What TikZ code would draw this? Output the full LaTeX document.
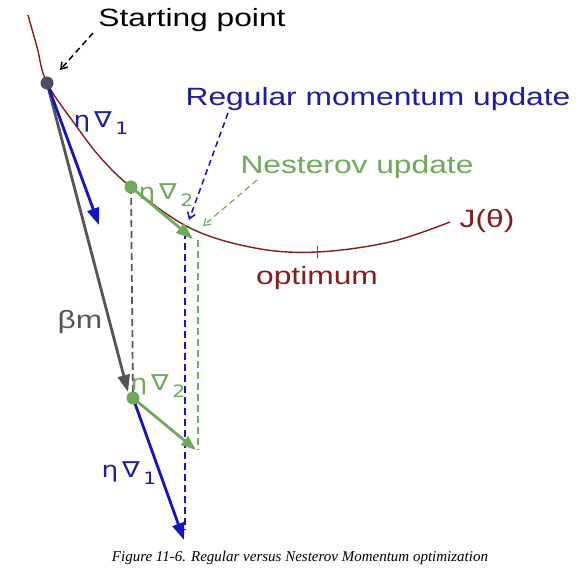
\documentclass[tikz,border=0pt]{standalone}
\usepackage{fontspec}
\setmainfont{Liberation Sans}[FakeStretch=1.27]
\newfontfamily\symfont{DejaVu Sans}[FakeStretch=1.2]
\newfontfamily\capfont{Liberation Serif}
\usetikzlibrary{arrows.meta}
\definecolor{curvered}{HTML}{8B1A1A}
\definecolor{myblue}{HTML}{1212C8}
\definecolor{txtblue}{HTML}{1C1CA8}
\definecolor{mygreen}{HTML}{6EAA58}
\definecolor{mygrey}{HTML}{555555}
\definecolor{dotgrey}{HTML}{4B4E5F}
\newcommand\etagrad[1]{{\symfont η\,∇\,\raisebox{-0.6ex}{\fontsize{17}{17}\selectfont #1}}}
\tikzset{
  bigarrow/.style={line width=2.8pt, -{Triangle[length=17pt,width=12pt]}},
  guide/.style={dashed, line width=1.7pt, dash pattern=on 7pt off 4pt},
  pointer/.style={dashed, line width=1.5pt, dash pattern=on 6pt off 4pt, -{Straight Barb[length=6pt,width=8pt]}},
  lbl/.style={font=\fontsize{25}{25}\selectfont, inner sep=0pt},
  glbl/.style={font=\fontsize{22}{22}\selectfont, inner sep=0pt},
  dot/.style={circle, inner sep=0pt, minimum size=13pt}
}
\begin{document}
\begin{tikzpicture}[x=1pt,y=-1pt]
\useasboundingbox (0,0) rectangle (586,572);
\fill[white] (0,0) rectangle (586,572);

% key points
\coordinate (s) at (47,83);
\coordinate (g1) at (131,187);
\coordinate (g2) at (133,398);
\coordinate (bt1) at (99,225);
\coordinate (gt1) at (193,239);
\coordinate (bm) at (128,392);
\coordinate (gt2) at (196,450);
\coordinate (bt2) at (184,540);
\coordinate (vb1) at (185,232);
\coordinate (vg1) at (198,240);
\coordinate (vb2) at (185,530);
\coordinate (vg2) at (198,450);
\coordinate (optt) at (317,246);
\coordinate (optb) at (317,258);

% cost curve
\draw[curvered, line width=1.4pt] plot[smooth, tension=0.6] coordinates
  {(28,15) (37,47) (47,83) (77,127) (100,157) (131,187) (190,228) (255,248) (317,252) (390,242) (450,222)};
\draw[mygrey, line width=0.8pt] (optt) -- (optb);

% dashed verticals
\draw[guide, mygrey] (g1) -- (g2);
\draw[guide, myblue] (vb1) -- (vb2);
\draw[guide, mygreen, line width=1.2pt] (vg1) -- (vg2);

% arrows
\draw[bigarrow, mygrey] (s) -- (bm);
\draw[bigarrow, myblue] (s) -- (bt1);
\draw[bigarrow, mygreen] (g1) -- (gt1);
\draw[bigarrow, mygreen, -{Triangle[length=15pt,width=11pt]}] (g2) -- (gt2);
\draw[bigarrow, myblue] (g2) -- (bt2);

% dots
\node[dot, fill=dotgrey] (sd) at (s) {};
\node[dot, fill=mygreen] (gd1) at (g1) {};
\node[dot, fill=mygreen] (gd2) at (g2) {};

% labels
\node[lbl, anchor=base] (start) at (192,27) {Starting point};
\node[lbl, anchor=base, text=txtblue] (reg) at (378,106) {Regular momentum update};
\node[lbl, anchor=base, text=mygreen] (nes) at (357,174) {Nesterov update};
\node[lbl, anchor=base, text=curvered] (J) at (487,227) {J(θ)};
\node[lbl, anchor=base, text=curvered] (optl) at (317,284) {optimum};
\node[lbl, text=mygrey] (bml) at (80,322) {βm};
\node[glbl, text=txtblue] (e1) at (101,123) {\etagrad{1}};
\node[glbl, text=mygreen] (e2) at (166,195) {\etagrad{2}};
\node[glbl, text=mygreen] (e3) at (158,386) {\etagrad{2}};
\node[glbl, text=txtblue] (e4) at (129,473) {\etagrad{1}};

% pointers
\coordinate (p0) at (93,33);
\coordinate (p0e) at (60,70);
\coordinate (p1) at (228,113);
\coordinate (p1e) at (189,220);
\coordinate (p2) at (257,180);
\coordinate (p2e) at (203,226);
\draw[pointer, black] (p0) -- (p0e);
\draw[pointer, myblue] (p1) -- (p1e);
\draw[pointer, mygreen, line width=1.2pt] (p2) -- (p2e);

% caption
\node[font=\capfont\itshape\fontsize{15}{15}\selectfont, inner sep=0pt] (cap) at (300,558)
  {Figure 11-6. Regular versus Nesterov Momentum optimization};
\end{tikzpicture}
\end{document}
